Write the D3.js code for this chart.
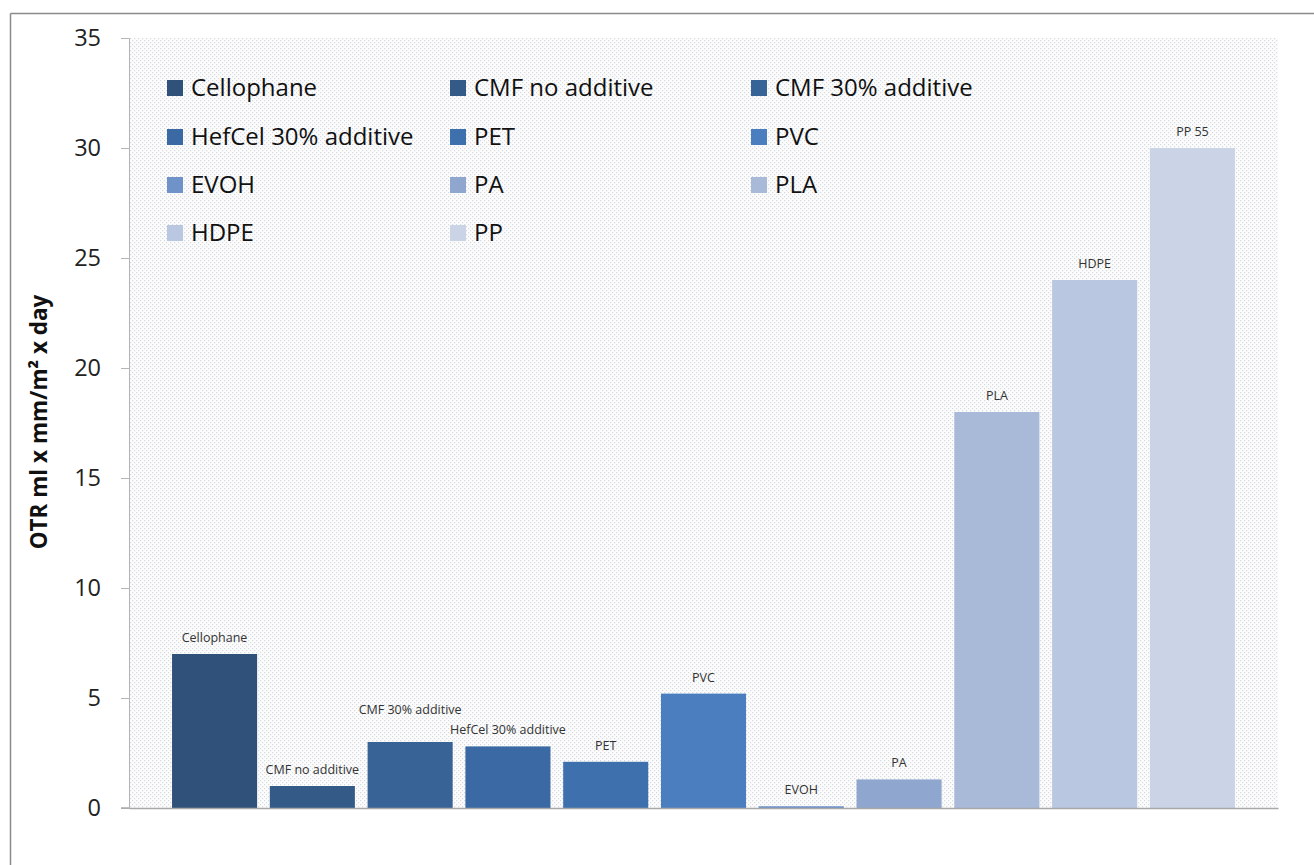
<!DOCTYPE html>
<html>
<head>
<meta charset="utf-8">
<script src="https://cdn.jsdelivr.net/npm/d3@7"></script>
<style>
  html, body { margin: 0; padding: 0; background: #ffffff; }
  svg { display: block; font-family: "Open Sans", "Liberation Sans", sans-serif; }
</style>
</head>
<body>
<svg id="chart" width="1314" height="865"></svg>
<script>
// ---- data ----
const categories = ["Cellophane", "CMF no additive", "CMF 30% additive", "HefCel 30% additive", "PET", "PVC", "EVOH", "PA", "PLA", "HDPE", "PP"];
const barLabels = ["Cellophane", "CMF no additive", "CMF 30% additive", "HefCel 30% additive", "PET", "PVC", "EVOH", "PA", "PLA", "HDPE", "PP 55"];
const values = [7.0, 1.0, 3.0, 2.8, 2.1, 5.2, 0.08, 1.3, 18.0, 24.0, 30.0];
const colors = ["#30527a", "#345b88", "#386397", "#3b69a3", "#3e70ad", "#4a7ebf", "#6f93c8", "#8fa6cf", "#a9b9d8", "#bac7e1", "#cad4e6"];
const yTicks = [0, 5, 10, 15, 20, 25, 30, 35];
const yTitle = "OTR ml x mm/m² x day";

// ---- layout ----
const svg = d3.select("#chart");
const plot = { left: 129, right: 1278, top: 38, bottom: 808 };

// frame (top & left border visible)
svg.append("line").attr("x1", 10.5).attr("y1", 13.5).attr("x2", 1314).attr("y2", 13.5)
  .attr("stroke", "#8a8a8a").attr("stroke-width", 1.5);
svg.append("line").attr("x1", 10.5).attr("y1", 13.5).attr("x2", 10.5).attr("y2", 865)
  .attr("stroke", "#8a8a8a").attr("stroke-width", 1.5);

// dotted background pattern
const defs = svg.append("defs");
const pat = defs.append("pattern").attr("id", "dots").attr("patternUnits", "userSpaceOnUse")
  .attr("width", 4).attr("height", 4);
pat.append("rect").attr("width", 4).attr("height", 4).attr("fill", "#fcfcfd");
pat.append("rect").attr("x", 0).attr("y", 0).attr("width", 1.2).attr("height", 1.2).attr("fill", "#d6dadf");
pat.append("rect").attr("x", 2).attr("y", 2).attr("width", 1.2).attr("height", 1.2).attr("fill", "#d6dadf");

svg.append("rect")
  .attr("x", plot.left).attr("y", plot.top)
  .attr("width", plot.right - plot.left).attr("height", plot.bottom - plot.top)
  .attr("fill", "url(#dots)");

// scales
const x = d3.scaleBand().domain(categories).range([plot.left, plot.right])
  .paddingInner(0.13).paddingOuter(0.44);
const y = d3.scaleLinear().domain([0, 35]).range([plot.bottom, plot.top]);

// bars
svg.append("g").selectAll("rect").data(categories).join("rect")
  .attr("x", d => x(d))
  .attr("y", (d, i) => y(values[i]))
  .attr("width", x.bandwidth())
  .attr("height", (d, i) => y(0) - y(values[i]))
  .attr("fill", (d, i) => colors[i]);

// bar labels
const labelNudge = { "CMF 30% additive": 16 };
svg.append("g").selectAll("text").data(categories).join("text")
  .attr("x", d => x(d) + x.bandwidth() / 2)
  .attr("y", (d, i) => y(values[i]) - 12 - (labelNudge[d] || 0))
  .attr("text-anchor", "middle")
  .attr("font-size", 12.5)
  .attr("fill", "#333")
  .text((d, i) => barLabels[i]);

// y axis
const yAxis = d3.axisLeft(y).tickValues(yTicks).tickSize(8).tickPadding(20).tickFormat(d3.format("d"));
const gy = svg.append("g").attr("transform", `translate(${plot.left},0)`).call(yAxis);
gy.select(".domain").attr("stroke", "#b5b5b5").attr("stroke-width", 1);
gy.selectAll(".tick line").attr("stroke", "#b5b5b5");
gy.selectAll(".tick text").attr("font-size", 23.5).attr("fill", "#222").attr("font-family", "Open Sans, sans-serif");

// x axis baseline
const xAxis = d3.axisBottom(x).tickSize(0).tickFormat("");
const gx = svg.append("g").attr("transform", `translate(0,${plot.bottom})`).call(xAxis);
gx.select(".domain").attr("stroke", "#a8a8a8").attr("stroke-width", 1.5);
svg.append("line").attr("x1", plot.left - 8).attr("x2", plot.left)
  .attr("y1", plot.bottom).attr("y2", plot.bottom).attr("stroke", "#a8a8a8").attr("stroke-width", 1.5);

// y title
svg.append("text")
  .attr("transform", `translate(47,${(plot.top + plot.bottom) / 2 - 1}) rotate(-90)`)
  .attr("text-anchor", "middle")
  .attr("font-size", 22.5).attr("font-weight", "bold").attr("fill", "#111")
  .text(yTitle);

// legend
const legCols = [167, 450, 751];
const legRows = [88, 137, 185, 233];
const leg = svg.append("g").selectAll("g").data(categories).join("g")
  .attr("transform", (d, i) => `translate(${legCols[i % 3]},${legRows[Math.floor(i / 3)]})`);
leg.append("rect").attr("x", 0).attr("y", -8).attr("width", 16).attr("height", 16)
  .attr("fill", (d, i) => colors[i]);
leg.append("text").attr("x", 24).attr("y", 0).attr("dy", "0.35em")
  .attr("font-size", 24).attr("fill", "#111")
  .text(d => d);
</script>
</body>
</html>
